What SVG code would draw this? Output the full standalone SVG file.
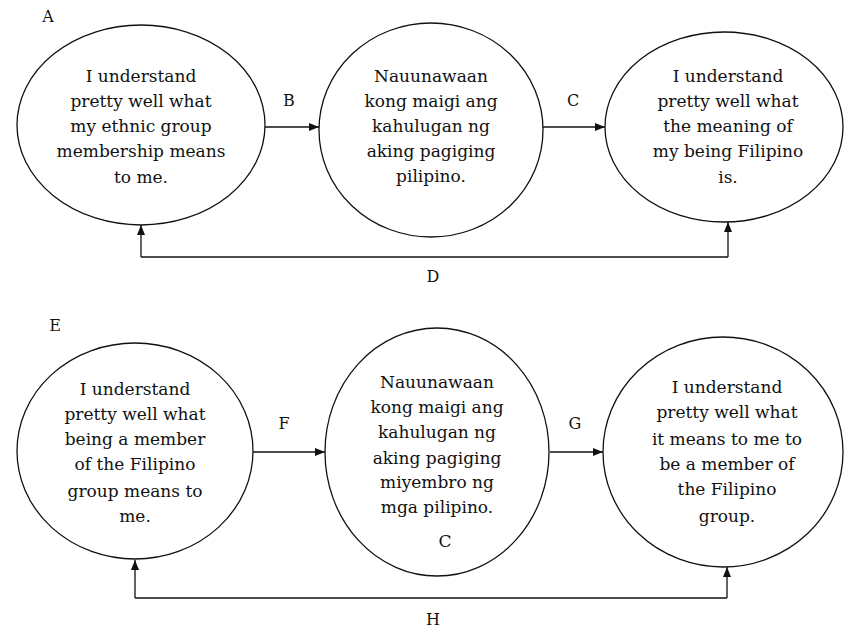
<svg xmlns="http://www.w3.org/2000/svg" width="845" height="629" viewBox="0 0 845 629">
<style>
.n{fill:#fff;stroke:#111;stroke-width:1.3}
.t{font-family:"DejaVu Serif","Liberation Serif",serif;font-size:17px;fill:#111;text-anchor:middle}
.l{font-family:"DejaVu Serif","Liberation Serif",serif;font-size:16px;fill:#111;text-anchor:middle}
.c{fill:none;stroke:#111;stroke-width:1.3}
</style>
<defs>
<marker id="ah" viewBox="0 0 10 8" refX="10" refY="4" markerWidth="10" markerHeight="8" markerUnits="userSpaceOnUse" orient="auto">
<path d="M0,0 L10,4 L0,8 Z" fill="#111"/>
</marker>
</defs>
<rect width="845" height="629" fill="#fff"/>
<text class="l" x="48" y="22">A</text>
<text class="l" x="55" y="331">E</text>
<g id="connectors">
<line class="c" x1="265" y1="127" x2="319" y2="127" marker-end="url(#ah)"/>
<line class="c" x1="543" y1="127" x2="605" y2="127" marker-end="url(#ah)"/>
<polyline class="c" points="141,257 728,257"/>
<line class="c" x1="141" y1="257" x2="141" y2="225" marker-end="url(#ah)"/>
<line class="c" x1="728" y1="257" x2="728" y2="222" marker-end="url(#ah)"/>
<line class="c" x1="253" y1="452" x2="325" y2="452" marker-end="url(#ah)"/>
<line class="c" x1="550" y1="452" x2="603" y2="452" marker-end="url(#ah)"/>
<polyline class="c" points="135,598 727,598"/>
<line class="c" x1="135" y1="598" x2="135" y2="560" marker-end="url(#ah)"/>
<line class="c" x1="727" y1="598" x2="727" y2="567" marker-end="url(#ah)"/>
<text class="l" x="289" y="106">B</text>
<text class="l" x="573" y="106">C</text>
<text class="l" x="433" y="282">D</text>
<text class="l" x="284" y="429">F</text>
<text class="l" x="575" y="429">G</text>
<text class="l" x="433" y="625">H</text>
</g>
<g id="node1">
<ellipse class="n" cx="141" cy="125" rx="124" ry="100"/>
<text class="t" x="141" y="82">I understand</text>
<text class="t" x="141" y="107">pretty well what</text>
<text class="t" x="141" y="132">my ethnic group</text>
<text class="t" x="141" y="157">membership means</text>
<text class="t" x="141" y="183">to me.</text>
</g>
<g id="node2">
<ellipse class="n" cx="431" cy="130" rx="112" ry="107"/>
<text class="t" x="431" y="82">Nauunawaan</text>
<text class="t" x="431" y="107">kong maigi ang</text>
<text class="t" x="431" y="132">kahulugan ng</text>
<text class="t" x="431" y="157">aking pagiging</text>
<text class="t" x="431" y="182">pilipino.</text>
</g>
<g id="node3">
<ellipse class="n" cx="724" cy="127" rx="119" ry="95"/>
<text class="t" x="728" y="82">I understand</text>
<text class="t" x="728" y="107">pretty well what</text>
<text class="t" x="728" y="132">the meaning of</text>
<text class="t" x="728" y="157">my being Filipino</text>
<text class="t" x="728" y="183">is.</text>
</g>
<g id="node4">
<ellipse class="n" cx="135" cy="451" rx="118" ry="108"/>
<text class="t" x="135" y="395">I understand</text>
<text class="t" x="135" y="420">pretty well what</text>
<text class="t" x="135" y="445">being a member</text>
<text class="t" x="135" y="470">of the Filipino</text>
<text class="t" x="135" y="497">group means to</text>
<text class="t" x="135" y="522">me.</text>
</g>
<g id="node5">
<ellipse class="n" cx="437" cy="452" rx="112" ry="124"/>
<text class="t" x="437" y="388">Nauunawaan</text>
<text class="t" x="437" y="413">kong maigi ang</text>
<text class="t" x="437" y="438">kahulugan ng</text>
<text class="t" x="437" y="464">aking pagiging</text>
<text class="t" x="437" y="488">miyembro ng</text>
<text class="t" x="437" y="513">mga pilipino.</text>
<text class="t" x="445" y="547">C</text>
</g>
<g id="node6">
<ellipse class="n" cx="723" cy="452" rx="120" ry="115"/>
<text class="t" x="727" y="393">I understand</text>
<text class="t" x="727" y="418">pretty well what</text>
<text class="t" x="727" y="445">it means to me to</text>
<text class="t" x="727" y="470">be a member of</text>
<text class="t" x="727" y="495">the Filipino</text>
<text class="t" x="727" y="522">group.</text>
</g>
</svg>
